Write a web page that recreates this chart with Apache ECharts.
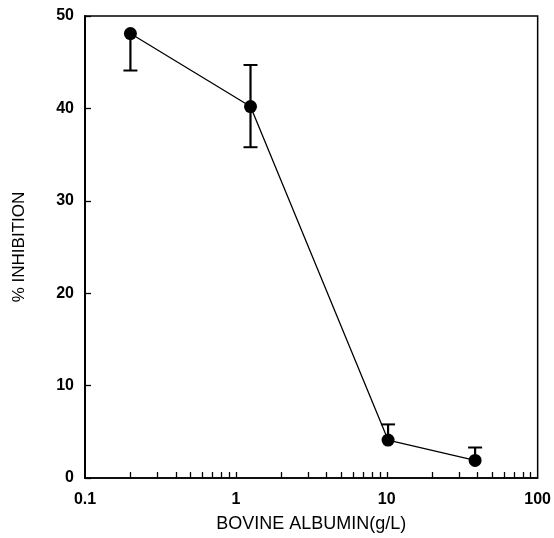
<!DOCTYPE html>
<html>
<head>
<meta charset="utf-8">
<script src="https://cdn.jsdelivr.net/npm/echarts@6/dist/echarts.min.js"></script>
<style>html,body{margin:0;padding:0;background:#fff;}#c{width:554px;height:538px;}</style>
</head>
<body>
<div id="c"></div>
<script>
var albumin = [0.2, 1.25, 10.2, 38.5];
var inhibition = [48.1, 40.2, 4.1, 1.9];
var errLow = [44.1, 35.8, null, null];
var errHigh = [null, 44.7, 5.8, 3.3];
var xLabelValues = [0.1, 1, 10, 100];
var xTickValues = [0.2,0.3,0.4,0.5,0.6,0.7,0.8,0.9,1,2,3,4,5,6,7,8,9,10,20,30,40,50,60,70,80,90];
var yTicks = [0, 10, 20, 30, 40, 50];

var pts = albumin.map(function(x, i){ return [x, inhibition[i]]; });
var errData = albumin.map(function(x, i){
  return [x, inhibition[i], errLow[i] == null ? inhibition[i] : errLow[i], errHigh[i] == null ? inhibition[i] : errHigh[i], errLow[i] == null ? 0 : 1, errHigh[i] == null ? 0 : 1];
});

var chart = echarts.init(document.getElementById('c'));
var font = '"Liberation Sans", Arial, Helvetica, sans-serif';
chart.setOption({
  animation: false,
  backgroundColor: '#fff',
  grid: { left: 85, right: 13, top: 16, bottom: 58, show: true, borderColor: '#000', borderWidth: 1.5, backgroundColor: 'transparent' },
  xAxis: {
    type: 'log', min: 0.1, max: 100, logBase: 10,
    name: 'BOVINE ALBUMIN(g/L)', nameLocation: 'middle', nameGap: 37,
    nameTextStyle: { fontFamily: font, fontSize: 18, color: '#000' },
    axisLine: { lineStyle: { color: '#000', width: 1.5 } },
    axisTick: { show: true, inside: true, length: 6, customValues: xTickValues, lineStyle: { color: '#000', width: 1.3 } },
    axisLabel: { customValues: xLabelValues, margin: 14, fontFamily: font, fontSize: 16, fontWeight: 'bold', color: '#000',
      formatter: function(v){ return v < 1 ? v.toFixed(1) : String(Math.round(v)); } },
    splitLine: { show: false }, minorTick: { show: false }
  },
  yAxis: {
    type: 'value', min: 0, max: 50, interval: 10,
    name: '% INHIBITION', nameLocation: 'middle', nameGap: 57, nameRotate: 90,
    nameTextStyle: { fontFamily: font, fontSize: 17, color: '#000' },
    axisLine: { show: true, lineStyle: { color: '#000', width: 2 } },
    axisTick: { show: true, inside: true, length: 6, lineStyle: { color: '#000', width: 1.3 } },
    axisLabel: { margin: 11, fontFamily: font, fontSize: 16, fontWeight: 'bold', color: '#000',
      formatter: function(v){ return yTicks.indexOf(v) >= 0 ? String(v) : ''; } },
    splitLine: { show: false }
  },
  series: [
    {
      type: 'custom',
      data: errData,
      z: 3,
      renderItem: function(params, api){
        var x = api.value(0), yl = api.value(2), yh = api.value(3);
        var pl = api.coord([x, yl]), ph = api.coord([x, yh]);
        var w = 7;
        var children = [{ type: 'line', shape: { x1: pl[0], y1: pl[1], x2: ph[0], y2: ph[1] }, style: { stroke: '#000', lineWidth: 2.2 } }];
        if (api.value(4)) children.push({ type: 'line', shape: { x1: pl[0]-w, y1: pl[1], x2: pl[0]+w, y2: pl[1] }, style: { stroke: '#000', lineWidth: 2 } });
        if (api.value(5)) children.push({ type: 'line', shape: { x1: ph[0]-w, y1: ph[1], x2: ph[0]+w, y2: ph[1] }, style: { stroke: '#000', lineWidth: 2 } });
        return { type: 'group', children: children };
      }
    },
    {
      type: 'line',
      data: pts,
      z: 4,
      symbol: 'circle', symbolSize: 13,
      itemStyle: { color: '#000' },
      lineStyle: { color: '#000', width: 1.3 }
    }
  ]
});
</script>
</body>
</html>
